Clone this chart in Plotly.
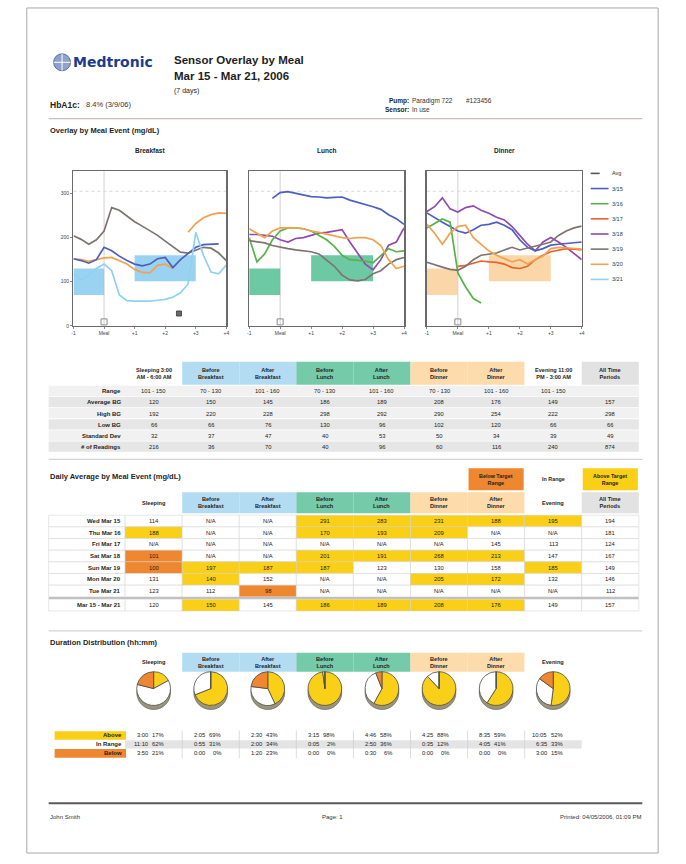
import plotly.graph_objects as go

# ------------------------------------------------------------------ data
REPORT_TITLE = "Sensor Overlay by Meal"
DATE_RANGE = "Mar 15 - Mar 21, 2006"
DAYS_NOTE = "(7 days)"
HBA1C_LABEL = "HbA1c:"
HBA1C_VALUE = "8.4% (3/9/06)"
PUMP_VALUE = "Paradigm 722"
PUMP_SERIAL = "#123456"
SENSOR_VALUE = "In use"
FOOTER_NAME = "John Smith"
FOOTER_PAGE = "Page: 1"
FOOTER_PRINTED = "Printed: 04/05/2006, 01:09 PM"

HOURS = [-1, -0.75, -0.5, -0.25, 0, 0.25, 0.5, 0.75, 1, 1.25, 1.5, 1.75,
         2, 2.25, 2.5, 2.75, 3, 3.25, 3.5, 3.75, 4]
HOUR_TICKS = [-1, 0, 1, 2, 3, 4]
HOUR_TICK_LABELS = ["-1", "Meal", "+1", "+2", "+3", "+4"]
BG_TICKS = [0, 100, 200, 300]
BG_MAX = 350
MEAL_HOUR = 0
BEFORE_WINDOW = [-1, 0]
AFTER_WINDOW = [1, 3]
HIGH_ALERT = 305

MEALS = ["Breakfast", "Lunch", "Dinner"]

breakfast_3_19 = [204, 196, 185, 195, 215, 268, 262, 248, 236, 226, 216, 205,
                  192, 180, 167, 165, 172, 178, 176, 165, 148]
breakfast_3_20 = [152, 150, 146, 150, 154, 155, 148, 140, 128, 121, 120, 137,
                  140, 130, None, 212, 232, 245, 252, 256, 255]
breakfast_3_15 = [152, 148, 142, 150, 178, 170, 158, 148, 140, 136, 140, 152,
                  155, 132, 150, 165, 178, 184, 185, 186, None]
breakfast_3_21 = [118, 104, 115, 130, 140, 125, 70, 57, 56, 56, 56, 58,
                  60, 65, 75, 95, 212, 160, 122, 118, 138]

lunch_3_15 = [None, None, None, 289, 302, 304, 300, 296, 293, 292, 290, 291,
              292, 285, 280, 276, 270, 264, 252, 243, 230]
lunch_3_18 = [207, 207, 205, 203, 195, 190, 198, 200, 205, 210, 212, 215,
              218, 190, 165, 140, 127, 150, 183, 190, 222]
lunch_3_16 = [200, 145, 163, 195, 215, 222, 222, 220, 215, 205, 195, 180,
              160, 150, 148, 147, 143, 160, 175, 168, 170]
lunch_3_19 = [193, 190, 188, 182, 178, 175, 172, 170, 168, 163, 150, 135,
              115, 104, 102, 105, 118, 125, 140, 150, 155]
lunch_3_20 = [220, 210, 200, 215, 222, 222, 222, 220, 215, 212, 208, 205,
              200, 198, 200, 200, 195, 182, 150, 130, 135]

dinner_3_18 = [259, 270, 290, 265, 258, 268, 272, 262, 255, 246, 240, 225,
               205, 185, 170, 190, 200, 190, 178, 165, 150]
dinner_3_15 = [256, 245, 235, 225, 215, 210, 218, 228, 230, 235, 228, 218,
               195, 178, 170, 175, 183, 185, 187, 188, 190]
dinner_3_16 = [222, 232, 242, 235, 120, 88, 62, 52, None, None, None, None,
               None, None, None, None, None, None, None, None, None]
dinner_3_17 = [None, None, None, None, 135, 137, 142, 147, 145, 144, 140, 132,
               130, 135, 150, 160, 168, 172, 175, 174, 172]
dinner_3_19 = [144, 138, 133, 128, 126, 135, 150, 160, 163, 165, 172, 178,
               172, 176, 180, 185, 190, 205, 215, 222, 226]
dinner_3_20 = [230, 210, 185, 210, 225, 228, 200, 185, 170, 160, 152, 145,
               150, 140, 150, 158, 175, 178, 177, 176, 174]

BREAKFAST_EVENT_HOURS = [2.45]
BREAKFAST_EVENT_BG = [28]

LEGEND_NAMES = ["Avg", "3/15", "3/16", "3/17", "3/18", "3/19", "3/20", "3/21"]

PERIOD_GROUPS = ["sleep", "breakfast", "breakfast", "lunch", "lunch",
                 "dinner", "dinner", "evening", "all"]
STAT_HEADERS = ["Sleeping 3:00<br>AM - 6:00 AM", "Before<br>Breakfast", "After<br>Breakfast",
                "Before<br>Lunch", "After<br>Lunch", "Before<br>Dinner", "After<br>Dinner",
                "Evening 11:00<br>PM - 3:00 AM", "All Time<br>Periods"]
STAT_ROW_LABELS = ["Range", "Average BG", "High BG", "Low BG", "Standard Dev", "# of Readings"]
STAT_RANGE = ["101 - 150", "70 - 130", "101 - 160", "70 - 130", "101 - 160",
              "70 - 130", "101 - 160", "101 - 150", ""]
STAT_AVG = [120, 150, 145, 186, 189, 208, 176, 149, 157]
STAT_HIGH = [192, 220, 228, 298, 292, 290, 254, 222, 298]
STAT_LOW = [66, 66, 76, 130, 96, 102, 120, 66, 66]
STAT_SD = [32, 37, 47, 40, 53, 50, 34, 39, 49]
STAT_N = [216, 36, 70, 40, 96, 60, 116, 240, 874]

DAILY_HEADERS = ["Sleeping", "Before<br>Breakfast", "After<br>Breakfast", "Before<br>Lunch",
                 "After<br>Lunch", "Before<br>Dinner", "After<br>Dinner", "Evening",
                 "All Time<br>Periods"]
DAILY_KEY = ["Below Target<br>Range", "In Range", "Above Target<br>Range"]
DAY_LABELS = ["Wed Mar 15", "Thu Mar 16", "Fri Mar 17", "Sat Mar 18", "Sun Mar 19",
              "Mon Mar 20", "Tue Mar 21", "Mar 15 - Mar 21"]
daily_wed = ["114", "N/A", "N/A", "291", "283", "231", "188", "195", "194"]
daily_thu = ["188", "N/A", "N/A", "170", "193", "209", "N/A", "N/A", "181"]
daily_fri = ["N/A", "N/A", "N/A", "N/A", "N/A", "N/A", "145", "113", "124"]
daily_sat = ["101", "N/A", "N/A", "201", "191", "268", "213", "147", "167"]
daily_sun = ["100", "197", "187", "187", "123", "130", "158", "185", "149"]
daily_mon = ["131", "140", "152", "N/A", "N/A", "205", "172", "132", "146"]
daily_tue = ["123", "112", "98", "N/A", "N/A", "N/A", "N/A", "N/A", "112"]
daily_all = ["120", "150", "145", "186", "189", "208", "176", "149", "157"]
# A = above target, B = below target, N = in range / no data
status_wed = "NNNAAAAAN"
status_thu = "ANNAAANNN"
status_fri = "NNNNNNNNN"
status_sat = "BNNAAAANN"
status_sun = "BAAANNNAN"
status_mon = "NANNNAANN"
status_tue = "NNBNNNNNN"
status_all = "NANAAAANN"

DUR_HEADERS = ["Sleeping", "Before<br>Breakfast", "After<br>Breakfast", "Before<br>Lunch",
               "After<br>Lunch", "Before<br>Dinner", "After<br>Dinner", "Evening"]
DUR_ROW_LABELS = ["Above", "In Range", "Below"]
dur_above_time = ["3:00", "2:05", "2:30", "3:15", "4:46", "4:25", "8:35", "10:05"]
dur_above_pct = [17, 69, 43, 98, 58, 88, 59, 52]
dur_in_time = ["11:10", "0:55", "2:00", "0:05", "2:50", "0:35", "4:05", "6:35"]
dur_in_pct = [62, 31, 34, 2, 36, 12, 41, 33]
dur_below_time = ["3:50", "0:00", "1:20", "0:00", "0:30", "0:00", "0:00", "3:00"]
dur_below_pct = [21, 0, 23, 0, 6, 0, 0, 15]

# ------------------------------------------------------------------ styling
W, H = 686, 864
FONT = "Liberation Sans, Arial, Helvetica, sans-serif"
TXT = "#1e1e1e"
VAL = "#222222"
SERIES_COLORS = {"Avg": "#555555", "3/15": "#4d5ec2", "3/16": "#58b24c", "3/17": "#e8642c",
                 "3/18": "#9249b0", "3/19": "#7d7471", "3/20": "#f2a24f", "3/21": "#8ed2f0"}
GROUP_FILL = {"sleep": "#ffffff", "breakfast": "#b3dcf2", "lunch": "#74caa9",
              "dinner": "#fddbaa", "evening": "#ffffff", "all": "#e2e2e2"}
SHADE = {"Breakfast": "rgba(120,196,236,0.75)", "Lunch": "rgba(72,188,140,0.8)",
         "Dinner": "rgba(248,200,140,0.75)"}
YELLOW = "#f9cf17"
ORANGE = "#ef8630"
STATUS_FILL = {"A": YELLOW, "B": ORANGE, "N": "#ffffff"}


def X(p):
    return p / W


def Y(p):
    return 1 - p / H


shapes, ann = [], []


def text(x, y, s, size=6.0, bold=False, anchor="left", color=TXT, family=FONT):
    ann.append(dict(x=X(x), y=Y(y), xref="paper", yref="paper",
                    text=f"<b>{s}</b>" if bold else s, showarrow=False,
                    xanchor=anchor, yanchor="middle", borderpad=0,
                    font=dict(family=family, size=size, color=color)))


def rect(x0, y0, x1, y1, fill="rgba(0,0,0,0)", line=None, lw=0.6, layer="below"):
    shapes.append(dict(type="rect", xref="paper", yref="paper",
                       x0=X(x0), x1=X(x1), y0=Y(y1), y1=Y(y0), fillcolor=fill,
                       line=dict(color=line if line else "rgba(0,0,0,0)", width=lw if line else 0),
                       layer=layer))


def seg(x0, y0, x1, y1, color, w, dash="solid"):
    shapes.append(dict(type="line", xref="paper", yref="paper", x0=X(x0), x1=X(x1),
                       y0=Y(y0), y1=Y(y1), line=dict(color=color, width=w, dash=dash)))


fig = go.Figure()

# ------------------------------------------------------------------ page frame / header
rect(25, 8, 661, 856, line="#a8a8a8", lw=1)
shapes.append(dict(type="circle", xref="paper", yref="paper", x0=X(52), x1=X(69),
                   y0=Y(71), y1=Y(54), fillcolor="#8ea3cc", line=dict(color="#5b6fa6", width=1)))
seg(60.5, 54, 60.5, 71, "#ffffff", 1)
seg(52, 62.5, 69, 62.5, "#ffffff", 1)
text(71, 62, "Medtronic", 14, True, color="#1d3c8c",
     family="DejaVu Sans, Liberation Sans, Arial, sans-serif")
text(172, 60, REPORT_TITLE, 11.5, True)
text(172, 76, DATE_RANGE, 11.5, True)
text(172, 91, DAYS_NOTE, 7)
text(47, 105, HBA1C_LABEL, 8.5, True)
text(84, 105, HBA1C_VALUE, 7.5, color="#333333")
text(411, 101, "Pump:", 6.5, True, anchor="right")
text(412, 101, PUMP_VALUE, 6.5, color="#333333")
text(466, 101, PUMP_SERIAL, 6.5, color="#333333")
text(411, 110, "Sensor:", 6.5, True, anchor="right")
text(412, 110, SENSOR_VALUE, 6.5, color="#333333")
seg(47, 119, 645, 119, "#c9bdbd", 1.2)

# ------------------------------------------------------------------ overlay charts
text(47, 131, "Overlay by Meal Event (mg/dL)", 7.5, True)
CHART_X = [(72, 226), (249, 405), (428, 584)]
CHART_Y = (172, 327)
meal_series = [
    [("3/19", breakfast_3_19), ("3/20", breakfast_3_20), ("3/15", breakfast_3_15),
     ("3/21", breakfast_3_21)],
    [("3/15", lunch_3_15), ("3/18", lunch_3_18), ("3/16", lunch_3_16), ("3/19", lunch_3_19),
     ("3/20", lunch_3_20)],
    [("3/18", dinner_3_18), ("3/15", dinner_3_15), ("3/16", dinner_3_16), ("3/17", dinner_3_17),
     ("3/19", dinner_3_19), ("3/20", dinner_3_20)],
]
layout_axes = {}
for i, meal in enumerate(MEALS):
    sfx = "" if i == 0 else str(i + 1)
    xa, ya = "x" + sfx, "y" + sfx
    x0, x1 = CHART_X[i]
    layout_axes["xaxis" + sfx] = dict(
        domain=[X(x0), X(x1)], range=[HOUR_TICKS[0], HOUR_TICKS[-1]], anchor=ya,
        tickvals=HOUR_TICKS, ticktext=HOUR_TICK_LABELS, showgrid=False, zeroline=False,
        showline=True, mirror=True, linecolor="#6a6a6a", linewidth=1.5, ticks="outside",
        ticklen=2, tickcolor="#888", tickfont=dict(family=FONT, size=5, color="#444"),
        fixedrange=True)
    layout_axes["yaxis" + sfx] = dict(
        domain=[Y(CHART_Y[1]), Y(CHART_Y[0])], range=[0, BG_MAX], anchor=xa,
        tickvals=BG_TICKS, showticklabels=(i == 0), showgrid=False, zeroline=False,
        showline=True, mirror=True, linecolor="#6a6a6a", linewidth=1.5,
        ticks="outside" if i == 0 else "", ticklen=2, tickcolor="#888",
        tickfont=dict(family=FONT, size=5, color="#444"), fixedrange=True)
    text((x0 + x1) / 2, 151, meal, 6.5, True, anchor="center")
    # target ranges from the statistics table
    lo_b, hi_b = [int(v) for v in STAT_RANGE[1 + 2 * i].split(" - ")]
    lo_a, hi_a = [int(v) for v in STAT_RANGE[2 + 2 * i].split(" - ")]
    for (wx0, wx1), (lo, hi) in ((BEFORE_WINDOW, (lo_b, hi_b)), (AFTER_WINDOW, (lo_a, hi_a))):
        shapes.append(dict(type="rect", xref=xa, yref=ya, x0=wx0, x1=wx1, y0=lo, y1=hi,
                           fillcolor=SHADE[meal], line=dict(width=0), layer="below"))
    shapes.append(dict(type="line", xref=xa, yref=ya + " domain", x0=MEAL_HOUR, x1=MEAL_HOUR,
                       y0=0, y1=1, line=dict(color="#c4c4c4", width=0.8), layer="below"))
    shapes.append(dict(type="line", xref=xa, yref=ya, x0=HOUR_TICKS[0], x1=HOUR_TICKS[-1],
                       y0=HIGH_ALERT, y1=HIGH_ALERT,
                       line=dict(color="#d9d3e6", width=1, dash="dot"), layer="below"))
    for key, vals in meal_series[i]:
        fig.add_trace(go.Scatter(x=HOURS, y=vals, mode="lines", xaxis=xa, yaxis=ya,
                                 line=dict(color=SERIES_COLORS[key], width=1.7),
                                 connectgaps=False, showlegend=False, hoverinfo="skip"))
    fig.add_trace(go.Scatter(x=[MEAL_HOUR], y=[9], mode="markers", xaxis=xa, yaxis=ya,
                             marker=dict(symbol="square-open", size=6, color="#8a8a8a"),
                             showlegend=False, hoverinfo="skip"))
fig.add_trace(go.Scatter(x=BREAKFAST_EVENT_HOURS, y=BREAKFAST_EVENT_BG, mode="markers",
                         xaxis="x", yaxis="y",
                         marker=dict(symbol="square", size=5, color="#6a6a6a",
                                     line=dict(color="#333", width=0.8)),
                         showlegend=False, hoverinfo="skip"))

# chart legend
for k, name in enumerate(LEGEND_NAMES):
    ly = 174 + k * 15.2
    seg(593, ly, 611, ly, SERIES_COLORS[name], 1.6, "dash" if name == "Avg" else "solid")
    text(613, ly, name, 5.5, color="#333")

# ------------------------------------------------------------------ column geometry
COL_L, COL_W = 124, 57.5


def cx(j):
    return COL_L + COL_W * (j + 0.5)


# ------------------------------------------------------------------ statistics table
T1_HEAD = (363, 386)
T1_ROW0, T1_RH = 387, 11.2
for j, hdr in enumerate(STAT_HEADERS):
    rect(COL_L + COL_W * j, T1_HEAD[0], COL_L + COL_W * (j + 1), T1_HEAD[1],
         fill=GROUP_FILL[PERIOD_GROUPS[j]])
    text(cx(j), sum(T1_HEAD) / 2, hdr, 5.6, True, anchor="center")
stat_rows = [STAT_RANGE, STAT_AVG, STAT_HIGH, STAT_LOW, STAT_SD, STAT_N]
for r, (label, vals) in enumerate(zip(STAT_ROW_LABELS, stat_rows)):
    y0 = T1_ROW0 + r * T1_RH
    rect(47, y0, COL_L + COL_W * 9, y0 + T1_RH - 0.8,
         fill="#e6e6e6" if r % 2 else "#f1f1f1")
    text(121, y0 + T1_RH / 2, label, 6, True, anchor="right")
    for j, v in enumerate(vals):
        text(cx(j), y0 + T1_RH / 2, str(v), 5.8, anchor="center", color=VAL)

# ------------------------------------------------------------------ daily average table
seg(47, 461, 645, 461, "#d4d4d4", 1.2)
text(47, 478, "Daily Average by Meal Event (mg/dL)", 7.5, True)
for k, (lab, fill) in enumerate(zip(DAILY_KEY, [ORANGE, "#ffffff", YELLOW])):
    j = 6 + k
    rect(COL_L + COL_W * j + 1, 470, COL_L + COL_W * (j + 1) - 1, 492, fill=fill)
    text(cx(j), 481, lab, 5.4, True, anchor="center")
T2_HEAD = (494, 515)
for j, hdr in enumerate(DAILY_HEADERS):
    rect(COL_L + COL_W * j, T2_HEAD[0], COL_L + COL_W * (j + 1), T2_HEAD[1],
         fill=GROUP_FILL[PERIOD_GROUPS[j]])
    text(cx(j), sum(T2_HEAD) / 2, hdr, 5.6, True, anchor="center")
daily_rows = [daily_wed, daily_thu, daily_fri, daily_sat, daily_sun, daily_mon, daily_tue,
              daily_all]
daily_status = [status_wed, status_thu, status_fri, status_sat, status_sun, status_mon,
                status_tue, status_all]
T2_RH = 11.7
for r, (label, vals, st) in enumerate(zip(DAY_LABELS, daily_rows, daily_status)):
    y0 = 517 + r * T2_RH + (2.5 if r == len(DAY_LABELS) - 1 else 0)
    rect(47, y0, COL_L, y0 + T2_RH, fill="#ffffff", line="#d0d0d0", lw=0.5)
    text(121, y0 + T2_RH / 2, label, 6, True, anchor="right")
    for j, v in enumerate(vals):
        rect(COL_L + COL_W * j, y0, COL_L + COL_W * (j + 1), y0 + T2_RH,
             fill=STATUS_FILL[st[j]], line="#d0d0d0", lw=0.5)
        text(cx(j), y0 + T2_RH / 2, v, 5.8, anchor="center", color=VAL)
seg(47, 517 + 7 * T2_RH + 1.2, COL_L + COL_W * 9, 517 + 7 * T2_RH + 1.2, "#8a8a8a", 1.2)

# ------------------------------------------------------------------ duration distribution
seg(47, 633, 645, 633, "#d4d4d4", 1.2)
text(47, 645, "Duration Distribution (hh:mm)", 7.5, True)
T3_HEAD = (655, 674)
for j, hdr in enumerate(DUR_HEADERS):
    rect(COL_L + COL_W * j, T3_HEAD[0], COL_L + COL_W * (j + 1), T3_HEAD[1],
         fill=GROUP_FILL[PERIOD_GROUPS[j]])
    text(cx(j), sum(T3_HEAD) / 2, hdr, 5.6, True, anchor="center")

PIE_CY, PIE_R = 691, 17
for j in range(len(DUR_HEADERS)):
    c = cx(j)
    shapes.append(dict(type="circle", xref="paper", yref="paper",
                       x0=X(c - PIE_R), x1=X(c + PIE_R), y0=Y(PIE_CY + PIE_R + 4),
                       y1=Y(PIE_CY - PIE_R + 4), fillcolor="#9a9478",
                       line=dict(color="#555", width=0.6), layer="below"))
    fig.add_trace(go.Pie(
        values=[dur_above_pct[j], dur_in_pct[j], dur_below_pct[j]],
        labels=DUR_ROW_LABELS, sort=False, direction="clockwise", rotation=0,
        marker=dict(colors=[YELLOW, "#ffffff", ORANGE], line=dict(color="#4a4a4a", width=0.8)),
        textinfo="none", hoverinfo="skip", showlegend=False,
        domain=dict(x=[X(c - PIE_R), X(c + PIE_R)], y=[Y(PIE_CY + PIE_R), Y(PIE_CY - PIE_R)])))

DUR_Y = [738, 747, 756]
rect(COL_L, DUR_Y[1] - 4.2, COL_L + COL_W * 8, DUR_Y[1] + 4.2, fill="#e4e4e4")
rect(53, DUR_Y[0] - 4.3, 125, DUR_Y[0] + 4.3, fill=YELLOW)
rect(53, DUR_Y[2] - 4.3, 125, DUR_Y[2] + 4.3, fill=ORANGE)
for j in range(1, 8):
    seg(COL_L + COL_W * j, 733, COL_L + COL_W * j, 761, "#cfcfcf", 0.7)
dur_times = [dur_above_time, dur_in_time, dur_below_time]
dur_pcts = [dur_above_pct, dur_in_pct, dur_below_pct]
for r, label in enumerate(DUR_ROW_LABELS):
    text(122, DUR_Y[r], label, 6, True, anchor="right")
    for j in range(len(DUR_HEADERS)):
        text(cx(j) - 5, DUR_Y[r], dur_times[r][j], 5.8, anchor="right", color=VAL)
        text(cx(j) + 11, DUR_Y[r], f"{dur_pcts[r][j]}%", 5.8, anchor="right", color=VAL)

# ------------------------------------------------------------------ footer
seg(47, 806, 645, 806, "#5a5a5a", 2)
text(47, 820, FOOTER_NAME, 6, color="#333")
text(333, 820, FOOTER_PAGE, 6, anchor="center", color="#333")
text(645, 820, FOOTER_PRINTED, 6, anchor="right", color="#333")

fig.update_layout(width=W, height=H, margin=dict(l=0, r=0, t=0, b=0), autosize=False,
                  paper_bgcolor="#ffffff", plot_bgcolor="#ffffff", showlegend=False,
                  shapes=shapes, annotations=ann, font=dict(family=FONT), **layout_axes)
fig.write_html("out.html", config={"displayModeBar": False, "staticPlot": True},
               post_script="document.body.style.margin='0';")
